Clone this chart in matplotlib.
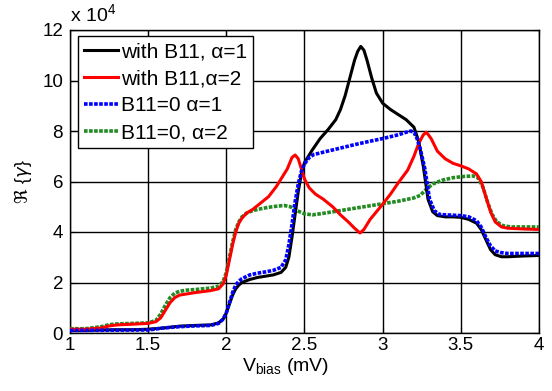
import numpy as np
import matplotlib
matplotlib.use('Agg')
import matplotlib.pyplot as plt

plt.rcParams['font.family'] = ['Liberation Sans', 'DejaVu Sans']
plt.rcParams['mathtext.fontset'] = 'custom'
plt.rcParams['mathtext.rm'] = 'Liberation Sans'

# values, y in units of 1e4
x_black = [1.0, 1.1, 1.2, 1.3, 1.4, 1.5, 1.6, 1.7, 1.8, 1.9, 1.95, 1.98, 2.0, 2.02, 2.04, 2.06, 2.08,
           2.1, 2.15, 2.2, 2.25, 2.3, 2.35, 2.38, 2.4, 2.42, 2.44, 2.46, 2.48, 2.5, 2.55, 2.6, 2.65,
           2.7, 2.73, 2.76, 2.79, 2.82, 2.84, 2.86, 2.88, 2.9, 2.93, 2.96, 3.0, 3.05, 3.1, 3.15, 3.2, 3.23,
           3.26, 3.29, 3.32, 3.35, 3.4, 3.45, 3.5, 3.55, 3.6, 3.63, 3.66, 3.69, 3.72, 3.76, 3.8, 3.9, 4.0]
y_black = [0.1, 0.1, 0.12, 0.13, 0.13, 0.15, 0.2, 0.27, 0.3, 0.32, 0.4, 0.55, 0.8, 1.15, 1.5, 1.75, 1.9,
           2.0, 2.12, 2.2, 2.25, 2.3, 2.4, 2.6, 3.0, 3.8, 4.7, 5.6, 6.3, 6.75, 7.25, 7.7, 8.05,
           8.45, 8.85, 9.4, 10.1, 10.8, 11.15, 11.35, 11.2, 10.8, 10.1, 9.5, 9.1, 8.85, 8.65, 8.45, 8.15, 7.6,
           6.6, 5.3, 4.8, 4.65, 4.6, 4.6, 4.58, 4.5, 4.35, 4.1, 3.7, 3.3, 3.1, 3.02, 3.02, 3.05, 3.07]

x_red = [1.0, 1.1, 1.2, 1.25, 1.3, 1.4, 1.5, 1.55, 1.58, 1.61, 1.64, 1.67, 1.7, 1.75, 1.8, 1.9, 1.95,
         1.98, 2.0, 2.02, 2.04, 2.06, 2.08, 2.1, 2.13, 2.17, 2.22, 2.27, 2.32, 2.36, 2.39, 2.42, 2.44,
         2.46, 2.48, 2.5, 2.53, 2.57, 2.62, 2.68, 2.73, 2.78, 2.82, 2.855, 2.88, 2.92, 2.96, 3.0, 3.05,
         3.1, 3.16, 3.2, 3.23, 3.26, 3.28, 3.31, 3.35, 3.4, 3.45, 3.5, 3.55, 3.6, 3.63, 3.66, 3.69,
         3.72, 3.76, 3.8, 3.9, 4.0]
y_red = [0.15, 0.15, 0.2, 0.28, 0.32, 0.35, 0.38, 0.45, 0.6, 0.9, 1.2, 1.4, 1.5, 1.55, 1.6, 1.68, 1.75,
         1.95, 2.3, 2.9, 3.5, 4.0, 4.35, 4.55, 4.75, 4.9, 5.15, 5.4, 5.8, 6.2, 6.5, 6.95, 7.05,
         6.9, 6.5, 6.1, 5.75, 5.5, 5.3, 5.0, 4.68, 4.4, 4.15, 3.96, 4.1, 4.5, 4.8, 5.1, 5.5,
         5.95, 6.45, 7.0, 7.5, 7.85, 7.95, 7.7, 7.2, 6.9, 6.72, 6.62, 6.5, 6.3, 6.0, 5.4, 4.8,
         4.4, 4.2, 4.15, 4.12, 4.1]

x_blue = [1.0, 1.5, 1.6, 1.7, 1.8, 1.9, 1.95, 1.98, 2.0, 2.02, 2.04, 2.06, 2.08, 2.1, 2.15, 2.2, 2.25,
          2.3, 2.35, 2.38, 2.4, 2.42, 2.44, 2.46, 2.48, 2.5, 2.53, 2.56, 2.6, 2.7, 2.8, 2.9, 3.0, 3.1,
          3.15, 3.18, 3.2, 3.22, 3.24, 3.27, 3.3, 3.33, 3.36, 3.4, 3.5, 3.55, 3.6, 3.63, 3.66, 3.69,
          3.72, 3.76, 3.8, 3.9, 4.0]
y_blue = [0.1, 0.12, 0.2, 0.25, 0.28, 0.3, 0.38, 0.55, 0.8, 1.2, 1.6, 1.9, 2.05, 2.15, 2.3, 2.37, 2.42,
          2.48, 2.6, 2.9, 3.5, 4.3, 5.2, 5.9, 6.4, 6.7, 6.95, 7.07, 7.13, 7.28, 7.43, 7.57, 7.7, 7.85,
          7.95, 8.0, 7.95, 7.7, 7.3, 6.5, 5.3, 4.85, 4.7, 4.68, 4.65, 4.6, 4.45, 4.2, 3.8, 3.45,
          3.25, 3.18, 3.15, 3.15, 3.15]

x_green = [1.0, 1.1, 1.2, 1.25, 1.3, 1.4, 1.5, 1.55, 1.58, 1.61, 1.64, 1.67, 1.7, 1.75, 1.8, 1.9, 1.95,
           1.98, 2.0, 2.02, 2.04, 2.06, 2.08, 2.1, 2.13, 2.17, 2.22, 2.27, 2.32, 2.37, 2.41, 2.45, 2.5,
           2.55, 2.6, 2.7, 2.8, 2.9, 3.0, 3.1, 3.2, 3.24, 3.28, 3.32, 3.38, 3.45, 3.52, 3.58, 3.61,
           3.64, 3.67, 3.7, 3.73, 3.77, 3.82, 3.9, 4.0]
y_green = [0.17, 0.17, 0.25, 0.33, 0.36, 0.38, 0.4, 0.5, 0.75, 1.1, 1.4, 1.58, 1.65, 1.7, 1.72, 1.78, 1.85,
           2.05, 2.4, 3.0, 3.6, 4.1, 4.4, 4.6, 4.75, 4.85, 4.92, 4.98, 5.02, 5.05, 5.0, 4.85, 4.72,
           4.68, 4.72, 4.82, 4.92, 5.02, 5.12, 5.22, 5.35, 5.45, 5.7, 5.9, 6.05, 6.15, 6.2, 6.22, 6.15,
           5.8, 5.2, 4.7, 4.4, 4.25, 4.2, 4.2, 4.2]

labels = ['with B11, \u03b1=1', 'with B11,\u03b1=2', 'B11=0 \u03b1=1', 'B11=0, \u03b1=2']

fig = plt.figure(figsize=(5.52, 3.91), dpi=100)
ax = fig.add_axes([70 / 552, 58 / 391, 469 / 552, 303 / 391])

ax.plot(x_black, y_black, color='black', lw=2.2, label=labels[0], zorder=4)
ax.plot(x_red, y_red, color='red', lw=2.2, label=labels[1], zorder=5)
ax.plot(x_blue, y_blue, color='#0000ff', lw=2.6, ls=(0, (1, 0.4)), label=labels[2], zorder=6)
ax.plot(x_green, y_green, color='#228b22', lw=2.6, ls=(0, (1, 0.4)), label=labels[3], zorder=3)

ax.set_xlim(1, 4)
ax.set_ylim(0, 12)
ax.set_xticks(np.arange(1, 4.01, 0.5))
ax.set_xticklabels(['1', '1.5', '2', '2.5', '3', '3.5', '4'])
ax.set_yticks(np.arange(0, 12.1, 2))
ax.grid(True, color='black', lw=1.0)
ax.tick_params(direction='in', top=True, right=True, labelsize=13.5, length=4)
ax.tick_params(axis='x', pad=3)
ax.tick_params(axis='y', pad=5)
for s in ax.spines.values():
    s.set_linewidth(1.0)

ax.text(0, 1.012, r'x 10$^4$', transform=ax.transAxes, ha='left', va='bottom', fontsize=14)
ax.set_ylabel(r'$\Re\ \{\gamma\}$', fontsize=13, labelpad=6)
ax.set_xlabel(r'V$_{\mathrm{bias}}$ (mV)', fontsize=14, labelpad=2)
ax.xaxis.set_label_coords(0.46, -0.075)

leg = ax.legend(loc='upper left', bbox_to_anchor=(0.017, 0.98), borderaxespad=0, fontsize=15,
                fancybox=False, framealpha=1, edgecolor='black', handlelength=1.6,
                handletextpad=0.15, labelspacing=0.38, borderpad=0.3)
leg.get_frame().set_linewidth(1.0)
leg.set_zorder(10)

fig.savefig('out.png', dpi=100)
